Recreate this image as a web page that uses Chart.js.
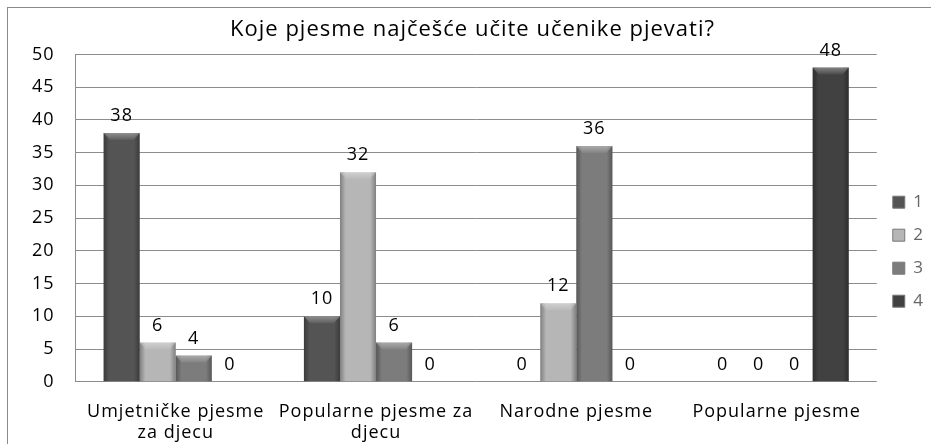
<!DOCTYPE html>
<html>
<head>
<meta charset="utf-8">
<script src="https://cdn.jsdelivr.net/npm/chart.js@4"></script>
<style>
  html, body { margin: 0; padding: 0; background: #fff; }
  #wrap { width: 931px; height: 444px; }
</style>
</head>
<body>
<div id="wrap"><canvas id="chart" width="931" height="444"></canvas></div>
<script>
const categories = [
  ["Umjetničke pjesme", "za djecu"],
  ["Popularne pjesme za", "djecu"],
  "Narodne pjesme",
  "Popularne pjesme"
];
const seriesNames = ["1", "2", "3", "4"];
const series1 = [38, 10, 0, 0];
const series2 = [6, 32, 12, 0];
const series3 = [4, 6, 36, 0];
const series4 = [0, 0, 0, 48];
const yTicks = [0, 5, 10, 15, 20, 25, 30, 35, 40, 45, 50];

const colors = ["#545454", "#b6b6b6", "#7c7c7c", "#414141"];

const FONT = "'Open Sans', 'DejaVu Sans', sans-serif";

// wider letter spacing, the original text is set quite loose
const spacing = {
  id: "spacing",
  beforeUpdate(chart) { chart.ctx.letterSpacing = "1px"; },
  beforeDraw(chart) { chart.ctx.letterSpacing = "1px"; }
};

// bevel look: darker sides and a light cap on each bar
const bevel = {
  id: "bevel",
  afterDatasetsDraw(chart) {
    const ctx = chart.ctx;
    ctx.save();
    chart.data.datasets.forEach((ds, di) => {
      chart.getDatasetMeta(di).data.forEach((bar) => {
        const x0 = bar.x - bar.width / 2, x1 = bar.x + bar.width / 2;
        const top = bar.y, bottom = bar.base;
        const h = bottom - top;
        if (h < 1) return;
        const g = ctx.createLinearGradient(x0, 0, x1, 0);
        g.addColorStop(0, "rgba(0,0,0,0.30)");
        g.addColorStop(0.16, "rgba(0,0,0,0.0)");
        g.addColorStop(0.84, "rgba(0,0,0,0.0)");
        g.addColorStop(1, "rgba(0,0,0,0.30)");
        ctx.fillStyle = g;
        ctx.fillRect(x0, top, x1 - x0, h);
        const cap = Math.min(7, h / 2);
        const v = ctx.createLinearGradient(0, top, 0, top + cap);
        v.addColorStop(0, "rgba(255,255,255,0.35)");
        v.addColorStop(1, "rgba(255,255,255,0.05)");
        ctx.fillStyle = v;
        ctx.beginPath();
        ctx.moveTo(x0, top);
        ctx.lineTo(x1, top);
        ctx.lineTo(x1 - 6, top + cap);
        ctx.lineTo(x0 + 6, top + cap);
        ctx.closePath();
        ctx.fill();
      });
    });
    ctx.restore();
  }
};

// value labels above the bars
const valueLabels = {
  id: "valueLabels",
  afterDatasetsDraw(chart) {
    const ctx = chart.ctx;
    ctx.save();
    ctx.font = "18px " + FONT;
    ctx.fillStyle = "#000";
    ctx.textAlign = "center";
    ctx.textBaseline = "bottom";
    chart.data.datasets.forEach((ds, di) => {
      chart.getDatasetMeta(di).data.forEach((bar, j) => {
        ctx.fillText(ds.data[j], bar.x, bar.y - 8);
      });
    });
    ctx.restore();
  }
};

// thin frame round the whole picture
const frame = {
  id: "frame",
  afterDraw(chart) {
    const ctx = chart.ctx;
    ctx.save();
    ctx.strokeStyle = "#8a8a8a";
    ctx.lineWidth = 1;
    ctx.strokeRect(7.5, 7.5, 940, 460);
    ctx.restore();
  }
};

const datasets = [series1, series2, series3, series4].map((d, i) => ({
  label: seriesNames[i],
  data: d,
  backgroundColor: colors[i],
  borderWidth: 0,
  categoryPercentage: 0.72,
  barPercentage: 1.0
}));

new Chart(document.getElementById("chart"), {
  type: "bar",
  data: { labels: categories, datasets },
  options: {
    responsive: false,
    animation: false,
    layout: { padding: { left: 11, right: -3, top: 6, bottom: -19 } },
    plugins: {
      title: {
        display: true,
        text: "Koje pjesme najčešće učite učenike pjevati?",
        color: "#000",
        font: { family: FONT, size: 22, weight: "normal", lineHeight: 1.2 },
        padding: { top: 11, bottom: 11 }
      },
      legend: {
        position: "right",
        title: { display: true, text: " ", padding: { top: 20, bottom: 0 }, font: { size: 12 } },
        labels: {
          color: "#000",
          font: { family: FONT, size: 17 },
          boxWidth: 12,
          boxHeight: 12,
          padding: 16,
          generateLabels(chart) {
            return chart.data.datasets.map((ds, i) => ({
              text: ds.label,
              fillStyle: colors[i],
              strokeStyle: "#777",
              lineWidth: 1,
              datasetIndex: i
            }));
          }
        }
      },
      tooltip: { enabled: false }
    },
    scales: {
      x: {
        grid: { display: false, drawTicks: false },
        border: { display: false },
        ticks: { color: "#000", font: { family: FONT, size: 18, lineHeight: 1.2 }, maxRotation: 0, padding: 19 }
      },
      y: {
        min: 0,
        max: 50,
        afterBuildTicks(axis) { axis.ticks = yTicks.map(v => ({ value: v })); },
        grid: { color: "#8c8c8c", drawTicks: false },
        border: { display: true, color: "#8c8c8c" },
        ticks: { color: "#000", font: { family: FONT, size: 18 }, padding: 21 }
      }
    }
  },
  plugins: [spacing, bevel, valueLabels, frame]
});
</script>
</body>
</html>
